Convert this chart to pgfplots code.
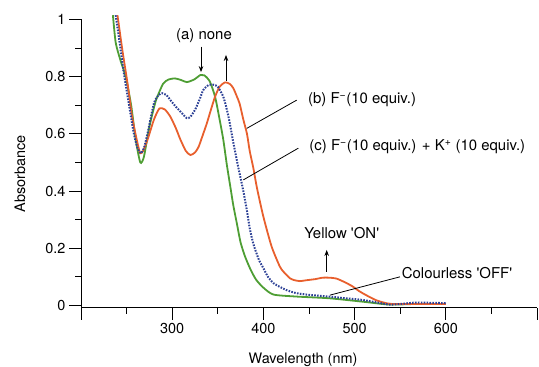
\documentclass[border=0pt]{standalone}
\usepackage{pgfplots}
\pgfplotsset{compat=1.18}
\usepackage{fontspec}
\setmainfont{TeX Gyre Heros}
\usetikzlibrary{arrows.meta}
\definecolor{cgreen}{RGB}{78,158,52}
\definecolor{corange}{RGB}{232,95,45}
\definecolor{cblue}{RGB}{45,65,150}
\begin{document}
\begin{tikzpicture}
\useasboundingbox (0,0) rectangle (539bp,367bp);
\begin{axis}[
  at={(81bp,59.3bp)}, anchor=south west,
  scale only axis, width=456bp, height=288.2bp,
  xmin=200, xmax=700, ymin=-0.008, ymax=1,
  clip=false,
  axis x line=bottom, axis y line=left,
  axis line style={-, line width=1bp},
  xtick={200,300,400,500,600,700},
  xticklabels={,300,400,500,600,},
  ytick={0,0.2,0.4,0.6,0.8,1},
  yticklabels={0,0.2,0.4,0.6,0.8,1},
  minor x tick num=1, minor y tick num=1,
  tick align=outside,
  major tick length=12bp, minor tick length=6bp,
  tick style={line width=0.9bp, black},
  /pgf/number format/assume math mode=true,
  ticklabel style={font=\fontsize{14.5}{16}\selectfont},
  label style={font=\fontsize{14.5}{16}\selectfont},
  xlabel={Wavelength (nm)},
  ylabel={Absorbance},
  xlabel style={at={(axis description cs:0.487,-0.181)}, anchor=center},
  ylabel style={at={(axis description cs:-0.134,0.464)}, anchor=center},
]
\addplot[color=cgreen, line width=1.8bp, smooth, tension=0.4] coordinates {
(235,1.015) (238,0.92) (243,0.86) (249,0.80) (255,0.70) (260,0.58) (265,0.50)
(269,0.52) (275,0.625) (282,0.715) (290,0.775) (296,0.79) (303,0.794) (310,0.788)
(316,0.781) (324,0.79) (331,0.806) (335,0.805) (341,0.785) (347,0.73) (352,0.65)
(356,0.58) (360,0.49) (364,0.41) (367,0.35) (371,0.285) (375,0.22) (380,0.17)
(386,0.125) (392,0.09) (400,0.062) (411,0.038) (436,0.031) (472,0.025) (509,0.013)
(538,0.003) (567,0.005) (600,0.005)};
\addplot[color=corange, line width=1.8bp, smooth, tension=0.4] coordinates {
(240,1.015) (245.5,0.89) (251,0.777) (256,0.66) (262,0.567) (265,0.532) (268,0.54)
(273,0.58) (280,0.65) (286,0.689) (292,0.685) (298,0.66) (304,0.62) (309,0.58)
(315,0.54) (320,0.526) (325,0.535) (329,0.555) (334,0.60) (338,0.637) (343,0.69)
(347,0.73) (352,0.765) (358,0.78) (363,0.775) (367,0.76) (371,0.73) (374,0.705)
(378,0.65) (382,0.60) (385,0.54) (389,0.48) (393,0.41) (400,0.31) (409,0.206)
(418,0.136) (422,0.118) (429,0.095) (433,0.089) (440,0.085) (447,0.088) (457,0.092)
(465,0.097) (472,0.097) (480,0.094) (490,0.08) (498,0.066) (505,0.05) (512,0.037)
(523,0.019) (532,0.01) (541,0.005) (567,0.005) (600,0.005)};
\addplot[color=cblue, line width=2bp, dash pattern=on 1.6bp off 1.3bp, smooth, tension=0.4] coordinates {
(238,1.015) (242,0.928) (247,0.812) (253,0.695) (258,0.60) (262,0.55) (265.5,0.532)
(269,0.55) (273,0.602) (280,0.707) (285,0.735) (289,0.742) (294,0.735) (298,0.718)
(304,0.695) (309,0.678) (316,0.655) (320,0.66) (325,0.684) (330,0.72) (334,0.753)
(340,0.771) (345,0.772) (350,0.765) (356,0.73) (360,0.684) (363,0.64) (367,0.57)
(372,0.49) (375,0.445) (378,0.40) (382,0.33) (385,0.27) (389,0.215) (395,0.16)
(400,0.13) (405,0.10) (411,0.078) (418,0.065) (425,0.054) (436,0.043) (450,0.037)
(472,0.031) (490,0.025) (509,0.019) (525,0.01) (538,0.003) (550,0.005) (567,0.01)
(585,0.009) (600,0.008)};
% annotations
\node[font=\fontsize{15}{17}\selectfont, anchor=center] at (axis cs:334.9,0.942) {(a) none};
\draw[line width=0.8bp, -{Stealth[length=6bp,width=4.5bp]}] (axis cs:331.6,0.905) -- (axis cs:331.6,0.816);
\draw[line width=0.8bp, -{Stealth[length=6bp,width=4.5bp]}] (axis cs:359,0.786) -- (axis cs:359,0.876);
\node[font=\fontsize{15}{17}\selectfont, anchor=west, inner sep=0pt] at (axis cs:448.9,0.718) {(b) F\textsuperscript{−}(10 equiv.)};
\draw[line width=0.8bp] (axis cs:436.5,0.718) -- (axis cs:381.7,0.619);
\node[font=\fontsize{15}{17}\selectfont, anchor=west, inner sep=0pt] at (axis cs:450.3,0.555) {(c) F\textsuperscript{−}(10 equiv.) + K\textsuperscript{+} (10 equiv.)};
\draw[line width=0.8bp] (axis cs:438.3,0.55) -- (axis cs:378,0.439);
\node[font=\fontsize{15}{17}\selectfont, anchor=center] at (axis cs:485.9,0.252) {Yellow \textquotesingle ON\textquotesingle};
\draw[line width=0.8bp, -{Stealth[length=6bp,width=4.5bp]}] (axis cs:469.4,0.118) -- (axis cs:469.4,0.194);
\node[font=\fontsize{15}{17}\selectfont, anchor=west, inner sep=0pt] at (axis cs:551.6,0.112) {Colourless \textquotesingle OFF\textquotesingle};
\draw[line width=0.8bp] (axis cs:549.8,0.10) -- (axis cs:473,0.036);
\end{axis}
\end{tikzpicture}
\end{document}
